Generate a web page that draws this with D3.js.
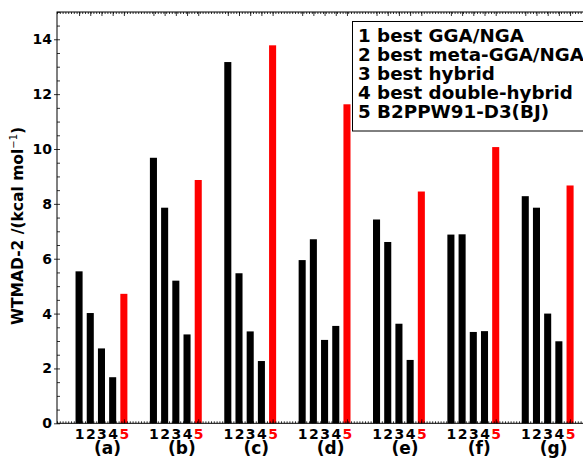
<!DOCTYPE html>
<html>
<head>
<meta charset="utf-8">
<script src="https://cdn.jsdelivr.net/npm/d3@7"></script>
<style>
  body { margin: 0; background: #fff; }
  text { font-family: "DejaVu Sans", sans-serif; font-weight: bold; }
</style>
</head>
<body>
<div id="chart"></div>
<script>
// chart data
const groups = ["(a)", "(b)", "(c)", "(d)", "(e)", "(f)", "(g)"];
const barLabels = ["1", "2", "3", "4", "5"];
const methods = ["1 best GGA/NGA", "2 best meta-GGA/NGA", "3 best hybrid", "4 best double-hybrid", "5 B2PPW91-D3(BJ)"];
const bestGGA     = [5.54, 9.68, 13.17, 5.95, 7.43, 6.88, 8.28];
const bestMetaGGA = [4.02, 7.86, 5.47, 6.71, 6.61, 6.89, 7.86];
const bestHybrid  = [2.73, 5.20, 3.35, 3.04, 3.63, 3.33, 4.00];
const bestDH      = [1.68, 3.24, 2.27, 3.55, 2.31, 3.36, 2.99];
const b2ppw91     = [4.72, 8.87, 13.78, 11.63, 8.45, 10.07, 8.67];
const yTicks = [0, 2, 4, 6, 8, 10, 12, 14];

const series = [bestGGA, bestMetaGGA, bestHybrid, bestDH, b2ppw91];

const w = 583, h = 460;
const plotLeft = 57, plotTop = 12, plotBottom = 423.3;
const groupStep = 6.64, firstBar = 1.97; // slots, one slot per bar

// one record per bar
const bars = [];
groups.forEach((g, gi) => {
  series.forEach((s, si) => {
    bars.push({group: gi, idx: si, value: s[gi], pos: firstBar + gi * groupStep + si});
  });
});

const x = d3.scaleLinear().domain([0, 47]).range([plotLeft, plotLeft + 47 * 11.2]);
const y = d3.scaleLinear().domain([0, 15]).range([plotBottom, plotBottom - 15 * 27.43]);

const svg = d3.select("#chart").append("svg")
  .attr("width", w).attr("height", h);
svg.append("rect").attr("width", w).attr("height", h).attr("fill", "#fff");

// bars
const bw = 0.63;
svg.append("g").selectAll("rect")
  .data(bars).enter().append("rect")
  .attr("x", d => x(d.pos - bw / 2))
  .attr("width", x(bw) - x(0))
  .attr("y", d => y(d.value))
  .attr("height", d => y(0) - y(d.value))
  .attr("fill", d => d.idx === 4 ? "#ff0000" : "#000");

// x ticks
const majorX = bars.map(d => d.pos);
const minorX = d3.range(0, 47.01, 0.25);

const xAxis = d3.axisBottom(x).tickValues(majorX).tickSize(-4).tickPadding(6)
  .tickFormat((d, i) => barLabels[i % 5]);
const gx = svg.append("g").attr("transform", `translate(0,${plotBottom})`).call(xAxis);
gx.selectAll("text").attr("font-size", 14).attr("font-family", "DejaVu Sans")
  .attr("font-weight", "bold")
  .attr("fill", (d, i) => i % 5 === 4 ? "#ff0000" : "#000");

svg.append("g").attr("transform", `translate(0,${plotBottom})`)
  .call(d3.axisBottom(x).tickValues(minorX).tickSize(-2).tickFormat(""));
svg.append("g").attr("transform", `translate(0,${plotTop})`)
  .call(d3.axisTop(x).tickValues(majorX).tickSize(-4).tickFormat(""));
svg.append("g").attr("transform", `translate(0,${plotTop})`)
  .call(d3.axisTop(x).tickValues(minorX).tickSize(-2).tickFormat(""));

// y ticks
const gy = svg.append("g").attr("transform", `translate(${plotLeft},0)`)
  .call(d3.axisLeft(y).tickValues(yTicks).tickSize(3).tickPadding(2));
gy.selectAll("text").attr("font-size", 14).attr("font-family", "DejaVu Sans")
  .attr("font-weight", "bold");
svg.append("g").attr("transform", `translate(${plotLeft},0)`)
  .call(d3.axisLeft(y).tickValues(d3.range(0, 15.01, 0.5)).tickSize(-3).tickFormat(""));

svg.selectAll(".domain").remove();
svg.selectAll(".tick line").attr("stroke", "#000").attr("stroke-width", 0.8);

// frame
svg.append("rect")
  .attr("x", plotLeft).attr("y", plotTop)
  .attr("width", w + 20 - plotLeft).attr("height", plotBottom - plotTop)
  .attr("fill", "none").attr("stroke", "#000").attr("stroke-width", 1);

// group labels
svg.append("g").selectAll("text")
  .data(groups).enter().append("text")
  .attr("x", (d, i) => x(firstBar + i * groupStep + 2) + 6)
  .attr("y", 454)
  .attr("text-anchor", "middle")
  .attr("font-size", 17)
  .text(d => d);

// y label
const ylab = svg.append("text")
  .attr("transform", "translate(23,226) rotate(-90)")
  .attr("text-anchor", "middle")
  .attr("font-size", 15.5);
ylab.append("tspan").text("WTMAD-2 /(kcal mol");
ylab.append("tspan").attr("dy", -6).attr("font-size", 10).attr("font-weight", "normal").text("\u22121");
ylab.append("tspan").attr("dy", 6).text(")");

// legend
const legend = svg.append("g");
legend.append("rect")
  .attr("x", 352.5).attr("y", 21.5)
  .attr("width", 260).attr("height", 109.5)
  .attr("fill", "#fff").attr("stroke", "#000").attr("stroke-width", 1);
legend.selectAll("text")
  .data(methods).enter().append("text")
  .attr("x", 358)
  .attr("y", (d, i) => 42 + i * 19.1)
  .attr("font-size", 18.3)
  .text(d => d);
</script>
</body>
</html>
